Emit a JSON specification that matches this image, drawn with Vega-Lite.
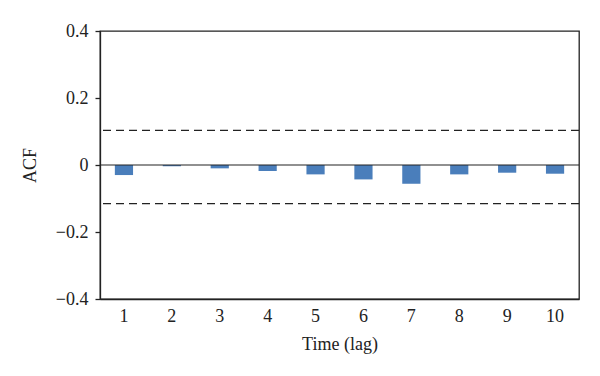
{
  "$schema": "https://vega.github.io/schema/vega-lite/v6.json",
  "autosize": "none",
  "width": 479,
  "height": 268,
  "padding": {"left": 100, "top": 31, "right": 21, "bottom": 77},
  "background": "white",
  "config": {
    "view": {"stroke": "#222222", "strokeWidth": 1.3},
    "font": "Liberation Serif",
    "axis": {"labelFont": "Liberation Serif", "titleFont": "Liberation Serif", "labelColor": "#222", "titleColor": "#222", "labelFontSize": 18, "titleFontSize": 18, "titleFontWeight": "normal", "grid": false, "domainColor": "#222", "tickColor": "#222", "domainWidth": 1.3, "tickWidth": 1.3}
  },
  "datasets": {
    "acf": [
      {"lag": 1, "acf": -0.030},
      {"lag": 2, "acf": -0.004},
      {"lag": 3, "acf": -0.010},
      {"lag": 4, "acf": -0.018},
      {"lag": 5, "acf": -0.028},
      {"lag": 6, "acf": -0.043},
      {"lag": 7, "acf": -0.056},
      {"lag": 8, "acf": -0.028},
      {"lag": 9, "acf": -0.023},
      {"lag": 10, "acf": -0.026}
    ],
    "bounds": [
      {"b": 0.1036},
      {"b": -0.115}
    ],
    "zero": [{"z": 0}]
  },
  "layer": [
    {
      "data": {"name": "acf"},
      "mark": {"type": "bar", "color": "#4a7ebb"},
      "encoding": {
        "x": {"field": "lag", "type": "ordinal", "title": "Time (lag)",
              "scale": {"paddingInner": 0.62, "paddingOuter": 0.31},
              "axis": {"labelAngle": 0, "ticks": false, "labelPadding": 8, "titlePadding": 10, "domain": true}},
        "y": {"field": "acf", "type": "quantitative", "title": "ACF",
              "scale": {"domain": [-0.4, 0.4], "nice": false},
              "axis": {"values": [-0.4, -0.2, 0, 0.2, 0.4], "tickSize": 5, "labelPadding": 7, "titlePadding": 16,
                       "labelExpr": "datum.value == 0 ? '0' : replace(format(datum.value, '.1f'), '-', '\u2212')"}}
      }
    },
    {
      "data": {"name": "zero"},
      "mark": {"type": "rule", "color": "#222", "strokeWidth": 1.2},
      "encoding": {"y": {"field": "z", "type": "quantitative"}}
    },
    {
      "data": {"name": "bounds"},
      "mark": {"type": "rule", "color": "#222", "strokeWidth": 1.3, "strokeDash": [8, 5]},
      "encoding": {"y": {"field": "b", "type": "quantitative"}}
    }
  ]
}
